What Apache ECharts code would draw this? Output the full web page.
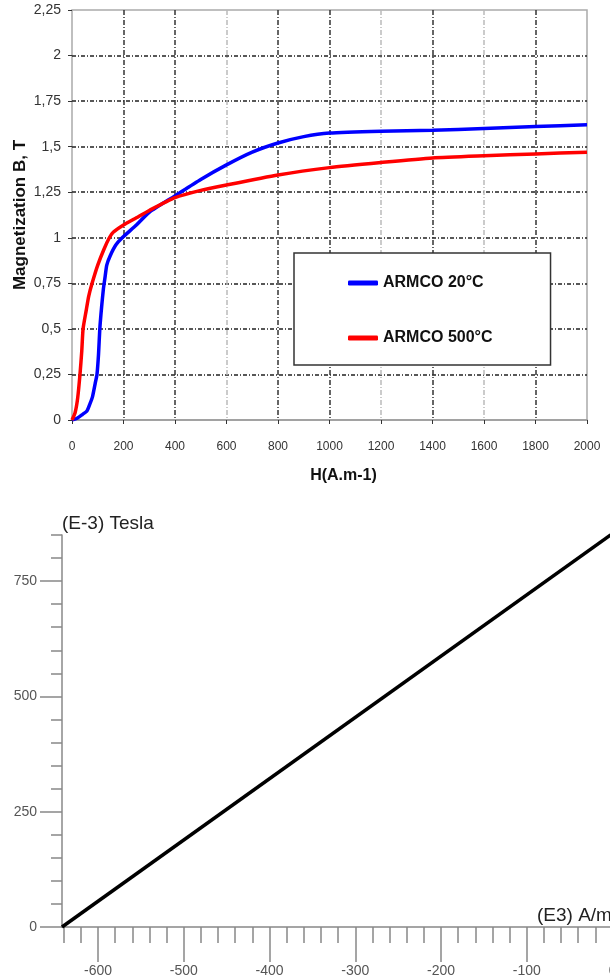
<!DOCTYPE html>
<html>
<head>
<meta charset="utf-8">
<script src="https://cdn.jsdelivr.net/npm/echarts@6/dist/echarts.min.js"></script>
<style>
  html, body { margin: 0; padding: 0; background: #fff; }
  #chart { width: 610px; height: 976px; }
</style>
</head>
<body>
<div id="chart"></div>
<script>
// B-H curves (top) and linear B(H) plot (bottom)
var armco20 = [
  [0, 0], [20, 0.01], [40, 0.03], [58, 0.05], [70, 0.09], [80, 0.13], [90, 0.2],
  [97, 0.25], [103, 0.36], [108, 0.5], [115, 0.62], [122, 0.72], [128, 0.78],
  [135, 0.85], [148, 0.9], [170, 0.96], [195, 1.0], [250, 1.07], [300, 1.14],
  [400, 1.23], [500, 1.32], [600, 1.4], [700, 1.47], [800, 1.52], [900, 1.555],
  [1000, 1.575], [1200, 1.585], [1400, 1.59], [1600, 1.6], [1800, 1.61], [2000, 1.62]
];
var armco500 = [
  [0, 0], [12, 0.04], [22, 0.12], [31, 0.25], [38, 0.38], [43, 0.5], [55, 0.6],
  [65, 0.68], [78, 0.75], [100, 0.85], [125, 0.94], [145, 1.0], [160, 1.03],
  [200, 1.07], [250, 1.11], [300, 1.15], [400, 1.22], [500, 1.26], [600, 1.29],
  [800, 1.345], [1000, 1.385], [1200, 1.413], [1400, 1.438], [1600, 1.45],
  [1800, 1.46], [2000, 1.47]
];
var seriesNames = ['ARMCO 20°C', 'ARMCO 500°C'];
var linePoints = [[-642, 0], [0, 853]];

var bottomMajorX = [-600, -500, -400, -300, -200, -100, 0];
var bottomMinorX = [-640, -620, -600, -580, -560, -540, -520, -500, -480, -460, -440,
  -420, -400, -380, -360, -340, -320, -300, -280, -260, -240, -220, -200, -180, -160,
  -140, -120, -100, -80, -60, -40, -20, 0, 20, 40];
var bottomMajorY = [0, 250, 500, 750];

(function () {
  var ink = '#333';
  var axisGray = '#999';
  var font = 'Liberation Sans, Arial, sans-serif';

  var chart = echarts.init(document.getElementById('chart'), null, { renderer: 'canvas' });

  var vColors = ['#333', '#333', '#bbb', '#333', '#333', '#bbb', '#333', '#bbb', '#333'];

  chart.setOption({
    animation: false,
    textStyle: { fontFamily: font },
    grid: [
      { left: 72, top: 10, width: 515, height: 410, outerBoundsMode: 'none',
        show: true, borderColor: '#aaa', borderWidth: 1.5 },
      { left: 62, top: 535, width: 602, height: 392, outerBoundsMode: 'none' }
    ],
    legend: {
      data: seriesNames,
      orient: 'vertical',
      left: 294,
      top: 253,
      padding: [22, 58, 19, 54],
      itemGap: 39,
      itemWidth: 30,
      itemHeight: 5,
      itemStyle: { borderWidth: 0 },
      icon: 'roundRect',
      itemTextGap: 2,
      backgroundColor: '#fff',
      borderColor: '#333',
      borderWidth: 1.5,
      textStyle: { color: '#111', fontSize: 16, fontWeight: 'bold', fontFamily: font }
    },
    xAxis: [
      {
        type: 'value', gridIndex: 0, position: 'bottom', min: 0, max: 2000, interval: 200,
        name: 'H(A.m-1)', nameLocation: 'middle', nameGap: 48,
        nameTextStyle: { color: '#111', fontSize: 16, fontWeight: 'bold', padding: [0, 0, 0, 28] },
        axisLine: { onZero: false, lineStyle: { color: axisGray, width: 1.5 } },
        axisTick: { show: true, length: 4, lineStyle: { color: ink } },
        axisLabel: { color: ink, fontSize: 12, margin: 21, showMaxLabel: true,
          formatter: function (v) { return String(v); } },
        splitLine: { show: true, showMinLine: false, showMaxLine: false,
          lineStyle: { color: vColors, type: [5, 2, 1, 2], width: 1.5 } }
      },
      {
        type: 'value', gridIndex: 1, position: 'bottom', offset: 0, min: -642, max: 60,
        axisLine: { onZero: false, lineStyle: { color: '#888', width: 1.5 } },
        axisTick: { show: true, inside: false, length: 16, customValues: bottomMinorX,
          lineStyle: { color: '#888', width: 1.5 } },
        axisLabel: { show: false },
        splitLine: { show: false }
      },
      {
        type: 'value', gridIndex: 1, position: 'bottom', offset: 0, min: -642, max: 60,
        axisLine: { show: false, onZero: false },
        axisTick: { show: true, inside: false, length: 35, customValues: bottomMajorX,
          lineStyle: { color: '#888', width: 1.5 } },
        axisLabel: { show: true, customValues: bottomMajorX, color: '#555', fontSize: 14, margin: 37 },
        splitLine: { show: false }
      }
    ],
    yAxis: [
      {
        type: 'value', gridIndex: 0, position: 'left', min: 0, max: 2.25, interval: 0.25,
        name: 'Magnetization B, T', nameLocation: 'middle', nameGap: 43, nameMoveOverlap: false,
        nameTextStyle: { color: '#111', fontSize: 17, fontWeight: 'bold' },
        axisLine: { show: false, onZero: false },
        axisTick: { show: true, length: 4, lineStyle: { color: ink } },
        axisLabel: {
          color: ink, fontSize: 14, margin: 11,
          formatter: function (v) { return String(v).replace('.', ','); }
        },
        splitLine: { show: true, showMinLine: false, showMaxLine: false,
          lineStyle: { color: '#222', type: [4, 2, 1, 2], width: 1.5 } }
      },
      {
        type: 'value', gridIndex: 1, position: 'left', offset: 0, min: 0, max: 850, interval: 50,
        axisLine: { show: true, onZero: false, lineStyle: { color: '#888', width: 1.5 } },
        axisTick: { show: true, inside: false, length: 11, lineStyle: { color: '#888', width: 1.5 } },
        axisLabel: { show: false },
        splitLine: { show: false }
      },
      {
        type: 'value', gridIndex: 1, position: 'left', offset: 0, min: 0, max: 850,
        name: '(E-3) Tesla', nameLocation: 'end', nameGap: 2,
        nameTextStyle: { color: '#222', fontSize: 19, align: 'left', verticalAlign: 'bottom' },
        axisLine: { show: false, onZero: false },
        axisTick: { show: true, inside: false, length: 22, customValues: bottomMajorY,
          lineStyle: { color: '#888', width: 1.5 } },
        axisLabel: { show: true, customValues: bottomMajorY, color: '#555', fontSize: 14, margin: 25 },
        splitLine: { show: false }
      }
    ],
    graphic: [
      { type: 'text', left: 537, top: 906, style: { text: '(E3) A/m', fill: '#222', font: '19px ' + font } }
    ],
    series: [
      {
        name: seriesNames[0], type: 'line', xAxisIndex: 0, yAxisIndex: 0,
        data: armco20, showSymbol: false, smooth: 0.2,
        lineStyle: { color: '#0000ff', width: 3.5 }, itemStyle: { color: '#0000ff' }
      },
      {
        name: seriesNames[1], type: 'line', xAxisIndex: 0, yAxisIndex: 0,
        data: armco500, showSymbol: false, smooth: 0.2,
        lineStyle: { color: '#ff0000', width: 3.5 }, itemStyle: { color: '#ff0000' }
      },
      {
        type: 'line', xAxisIndex: 1, yAxisIndex: 1,
        data: linePoints, showSymbol: false,
        lineStyle: { color: '#000', width: 3.5 }
      }
    ]
  });

  window.addEventListener('resize', function () { chart.resize(); });
})();
</script>
</body>
</html>
